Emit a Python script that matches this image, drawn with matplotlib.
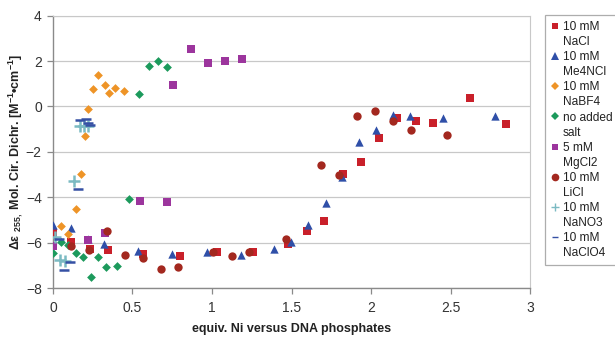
import matplotlib
matplotlib.use("Agg")
import matplotlib.pyplot as plt
from matplotlib.lines import Line2D

# --- data (equiv. Ni vs DNA phosphates, delta-epsilon 255) ---
nacl_x = [0.0, 0.113, 0.233, 0.346, 0.568, 0.799, 1.033, 1.256, 1.48, 1.595, 1.706,
          1.822, 1.935, 2.05, 2.16, 2.28, 2.39, 2.62, 2.85]
nacl_y = [-5.55, -5.95, -6.27, -6.31, -6.5, -6.58, -6.4, -6.39, -6.06, -5.47, -5.03,
          -2.97, -2.43, -1.41, -0.52, -0.62, -0.74, 0.38, -0.77]

me4ncl_x = [0.0, 0.113, 0.22, 0.323, 0.533, 0.75, 0.967, 1.18, 1.39, 1.497, 1.606,
            1.715, 1.816, 1.926, 2.03, 2.14, 2.245, 2.455, 2.78]
me4ncl_y = [-5.21, -5.35, -5.85, -6.05, -6.36, -6.5, -6.39, -6.53, -6.26, -5.99, -5.22,
            -4.25, -3.09, -1.55, -1.03, -0.37, -0.44, -0.5, -0.4]

nabf4_x = [0.05, 0.096, 0.143, 0.178, 0.20, 0.22, 0.25, 0.285, 0.33, 0.354, 0.39, 0.45]
nabf4_y = [-5.28, -5.6, -4.53, -2.97, -1.28, -0.13, 0.78, 1.37, 0.96, 0.59, 0.82, 0.68]

nosalt_x = [0.0, 0.048, 0.096, 0.145, 0.19, 0.239, 0.285, 0.335, 0.405, 0.48, 0.543,
            0.604, 0.658, 0.719]
nosalt_y = [-6.47, -5.97, -6.1, -6.46, -6.62, -7.49, -6.65, -7.07, -7.02, -4.08, 0.54,
            1.77, 2.0, 1.74]

mgcl2_x = [0.0, 0.218, 0.325, 0.547, 0.715, 0.757, 0.866, 0.977, 1.084, 1.19]
mgcl2_y = [-6.15, -5.9, -5.56, -4.18, -4.22, 0.93, 2.52, 1.91, 2.02, 2.08]

licl_x = [0.113, 0.228, 0.34, 0.451, 0.564, 0.677, 0.788, 1.008, 1.128, 1.235, 1.464,
          1.686, 1.80, 1.912, 2.025, 2.136, 2.25, 2.476]
licl_y = [-6.16, -6.34, -5.48, -6.56, -6.68, -7.17, -7.09, -6.39, -6.58, -6.4, -5.84,
          -2.6, -3.0, -0.44, -0.22, -0.65, -1.02, -1.24]

nano3_x = [0.012, 0.045, 0.075, 0.134, 0.17, 0.197, 0.222]
nano3_y = [-5.75, -6.75, -6.8, -3.27, -0.85, -0.85, -0.85]

naclo4_x = [0.04, 0.07, 0.108, 0.159, 0.172, 0.205, 0.222, 0.233]
naclo4_y = [-5.85, -7.2, -6.87, -3.63, -0.6, -0.55, -0.75, -0.8]

plt.rcParams["font.family"] = ["Liberation Sans", "DejaVu Sans"]
plt.rcParams["mathtext.fontset"] = "custom"
plt.rcParams["mathtext.rm"] = "Liberation Sans:bold"
plt.rcParams["mathtext.it"] = "Liberation Sans:bold"
plt.rcParams["mathtext.bf"] = "Liberation Sans:bold"

fig = plt.figure(figsize=(6.15, 3.39), dpi=100)
ax = fig.add_axes([0.086, 0.150, 0.776, 0.804])

series = [
    (nacl_x, nacl_y, "s", "#c9202a", 28, ("10 mM", "NaCl")),
    (me4ncl_x, me4ncl_y, "^", "#2f4fa8", 36, ("10 mM", "Me4NCl")),
    (nabf4_x, nabf4_y, "D", "#ee9427", 20, ("10 mM", "NaBF4")),
    (nosalt_x, nosalt_y, "D", "#1c9a5c", 20, ("no added", "salt")),
    (mgcl2_x, mgcl2_y, "s", "#9c359d", 28, ("5 mM", "MgCl2")),
    (licl_x, licl_y, "o", "#a3281f", 36, ("10 mM", "LiCl")),
    (nano3_x, nano3_y, "+", "#7bbac2", 80, ("10 mM", "NaNO3")),
    (naclo4_x, naclo4_y, "_", "#3550a4", 60, ("10 mM", "NaClO4")),
]
handles, labels = [], []
for xs, ys, m, c, s, lab in series:
    lw = 1.8 if m in "+_" else 0
    ax.scatter(xs, ys, marker=m, color=c, s=s, linewidths=lw, zorder=3)
    # legend: marker next to first line, blank handle for the wrapped line
    ms = {"s": 5, "^": 5.5, "D": 4, "o": 5.5, "+": 6, "_": 5}[m]
    handles.append(Line2D([], [], linestyle="none", marker=m, color=c, markersize=ms,
                          markeredgewidth=1.0 if m in "+_" else 0))
    labels.append(lab[0])
    handles.append(Line2D([], [], linestyle="none"))
    labels.append(lab[1])

ax.set_xlim(0, 3)
ax.set_ylim(-8, 4)
ax.set_xticks([0, 0.5, 1, 1.5, 2, 2.5, 3])
ax.set_xticklabels(["0", "0.5", "1", "1.5", "2", "2.5", "3"])
ax.set_yticks(range(-8, 5, 2))
ax.yaxis.grid(True, color="#c8c8c8", linewidth=0.9)
ax.set_axisbelow(True)
for side in ["top", "right"]:
    ax.spines[side].set_color("#c8c8c8")
for side in ["left", "bottom"]:
    ax.spines[side].set_color("#8a8a8a")
    ax.spines[side].set_linewidth(1.0)
ax.tick_params(axis="both", labelsize=10, labelcolor="#333333", color="#8a8a8a",
               length=4, width=0.9, direction="out", pad=4)
ax.tick_params(axis="x", pad=5)

ax.set_xlabel("equiv. Ni versus DNA phosphates", fontsize=9, fontweight="bold",
              color="#222222", labelpad=6)
ax.set_ylabel(r"$\Delta\epsilon$ $_{255,}$ Mol. Cir. Dichr. [M$^{-1}$•cm$^{-1}$]",
              fontsize=9, fontweight="bold", color="#222222", labelpad=0.5)

leg = fig.legend(handles, labels, loc="upper left", bbox_to_anchor=(0.886, 0.956),
                 frameon=True, fancybox=False, fontsize=8.6, handlelength=0.7,
                 handletextpad=0.3, labelspacing=0.26, borderpad=0.5, borderaxespad=0.0)
leg.get_frame().set_edgecolor("#999999")
leg.get_frame().set_linewidth(0.9)
for t in leg.get_texts():
    t.set_color("#222222")

fig.savefig("out.png", dpi=100, facecolor="white")
